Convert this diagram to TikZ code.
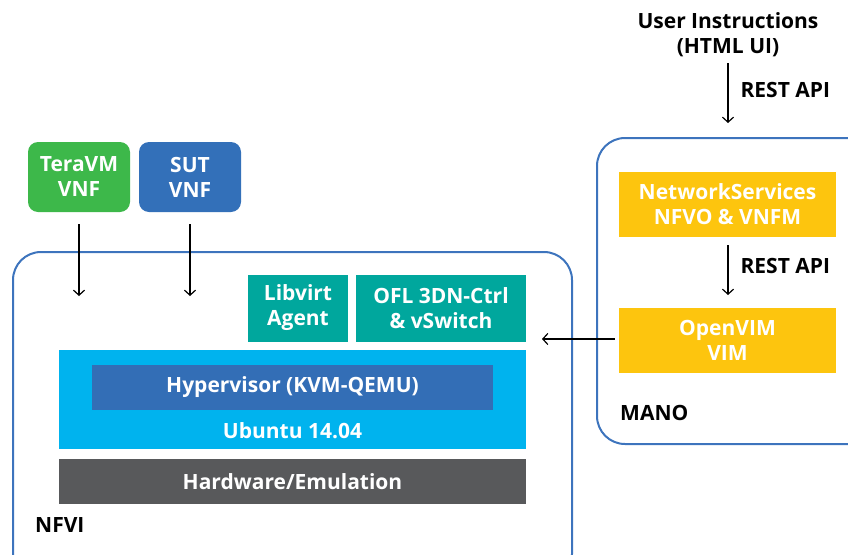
\documentclass[tikz,border=0pt]{standalone}
\usepackage{fontspec}
\setmainfont{Open Sans}
\usepackage{tikz}
\usetikzlibrary{arrows.meta}
\definecolor{vnfgreen}{HTML}{3DB84A}
\definecolor{vnfblue}{HTML}{3370B9}
\definecolor{agentteal}{HTML}{00A79D}
\definecolor{osblue}{HTML}{00B3EE}
\definecolor{hvblue}{HTML}{336EB6}
\definecolor{hwgray}{HTML}{58595B}
\definecolor{manoyellow}{HTML}{FDC50E}
\definecolor{frameblue}{HTML}{3D74BD}
\tikzset{every edge/.style={draw, -{Straight Barb[length=5pt,width=11pt]}, line width=1.2pt}}

\begin{document}
\begin{tikzpicture}[x=1pt, y=-1pt, every node/.style={font=\bfseries\fontsize{21}{25}\selectfont, align=center, inner sep=0pt},
  box/.style={fill=#1, text=white}, frame/.style={draw=frameblue, line width=2pt, rounded corners=28pt}]
  \useasboundingbox (0,0) rectangle (848,554);

  % frames
  \node[frame, minimum width=559pt, minimum height=330pt] at (292.5,417) (nfvi) {};
  \node[frame, minimum width=280pt, minimum height=306pt] at (737,291) (mano) {};
  \node[anchor=west] at (35,525) (nfvilabel) {NFVI};
  \node[anchor=west] at (620,413) (manolabel) {MANO};

  % VNFs
  \node[box=vnfgreen, rounded corners=10pt, minimum width=102pt, minimum height=70pt] at (79,177) (teravm) {TeraVM\\VNF};
  \node[box=vnfblue, rounded corners=10pt, minimum width=102pt, minimum height=70pt] at (190,177) (sut) {SUT\\VNF};
  \coordinate (teravmin) at (79,296);
  \coordinate (sutin) at (190,296);

  % NFVI stack
  \node[box=agentteal, minimum width=100pt, minimum height=67pt] at (298,308) (libvirt) {Libvirt\\Agent};
  \node[box=agentteal, minimum width=170pt, minimum height=67pt] at (441,308) (ofl) {OFL 3DN-Ctrl\\\& vSwitch};
  \node[box=osblue, minimum width=467pt, minimum height=99pt] at (292.5,399.5) (ubuntu) {};
  \node[box=hvblue, minimum width=401pt, minimum height=45pt] at (292.5,387.5) (hypervisor) {Hypervisor (KVM-QEMU)};
  \node[text=white] at (292.5,431) (ubuntulabel) {Ubuntu 14.04};
  \node[box=hwgray, minimum width=467pt, minimum height=45pt] at (292.5,481.5) (hardware) {Hardware/Emulation};
  \coordinate (oflin) at (542,339);

  % MANO
  \node at (728,35) (user) {User Instructions\\(HTML UI)};
  \coordinate (manoin) at (728,123);
  \node[box=manoyellow, minimum width=217pt, minimum height=65pt] at (727.5,204.5) (nfvo) {NetworkServices\\NFVO \& VNFM};
  \node[box=manoyellow, minimum width=217pt, minimum height=65pt] at (727.5,340.5) (openvim) {OpenVIM\\VIM};
  \coordinate (openvimin) at (728,295);

  \draw (teravm) edge[shorten <=12pt] (teravmin);
  \draw (sut) edge[shorten <=12pt] (sutin);
  \draw (user) edge[shorten <=6pt] node[right=12pt, anchor=west] {REST API} (manoin);
  \draw (nfvo.south -| openvimin) edge[shorten <=8pt] node[right=12pt, anchor=west] {REST API} (openvimin);
  \draw (openvim.west |- oflin) edge[shorten <=4pt] (oflin);
\end{tikzpicture}
\end{document}
